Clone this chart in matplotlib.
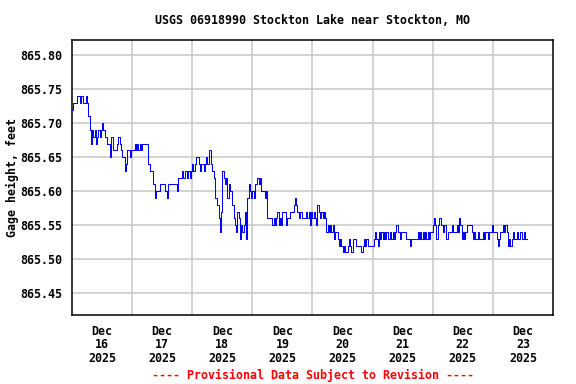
import datetime as dt
import numpy as np
import matplotlib
matplotlib.use("Agg")
import matplotlib.pyplot as plt
import matplotlib.dates as mdates
from matplotlib.ticker import FixedLocator, NullFormatter


TITLE = "USGS 06918990 Stockton Lake near Stockton, MO"
YLABEL = "Gage height, feet"
NOTE = "---- Provisional Data Subject to Revision ----"

START = dt.datetime(2025, 12, 16, 0, 0)
STEP_MIN = 30
BASE = 865.00

# gage height, hundredths of a foot above 865.00, one value per half hour
dec16 = [72, 73, 73, 73, 74, 74, 73, 74, 74, 73, 73, 74, 73, 71, 69, 67,
         69, 68, 69, 67, 68, 69, 68, 69, 70, 69, 68, 68, 67, 67, 65, 68,
         68, 66, 66, 66, 67, 68, 67, 66, 65, 65, 63, 64, 66, 66, 65, 66]
dec17 = [66, 66, 67, 66, 67, 66, 67, 66, 67, 67, 67, 67, 67, 64, 63, 63,
         63, 61, 59, 60, 60, 60, 61, 61, 61, 61, 60, 60, 59, 61, 61, 61,
         61, 61, 61, 61, 60, 62, 62, 62, 63, 62, 63, 63, 62, 63, 62, 63]
dec18 = [64, 63, 64, 65, 65, 64, 63, 64, 64, 63, 64, 65, 64, 66, 66, 64,
         63, 62, 59, 59, 58, 56, 54, 57, 63, 62, 61, 62, 59, 61, 60, 60,
         58, 56, 55, 54, 57, 56, 53, 55, 54, 55, 57, 53, 59, 61, 60, 59]
dec19 = [60, 59, 61, 61, 62, 61, 62, 60, 60, 60, 59, 60, 56, 56, 56, 56,
         55, 56, 55, 56, 57, 55, 56, 55, 57, 57, 57, 55, 56, 56, 57, 57,
         57, 58, 59, 58, 57, 56, 57, 57, 56, 56, 56, 57, 56, 57, 55, 57]
dec20 = [56, 57, 56, 55, 58, 57, 56, 57, 56, 57, 56, 54, 55, 54, 55, 54,
         55, 53, 54, 54, 53, 52, 53, 52, 51, 52, 51, 51, 52, 53, 52, 51,
         53, 53, 53, 52, 52, 52, 52, 51, 52, 53, 52, 53, 52, 52, 52, 52]
dec21 = [52, 53, 54, 53, 52, 54, 53, 54, 53, 54, 53, 54, 53, 53, 54, 53,
         54, 53, 54, 55, 54, 54, 53, 54, 54, 54, 54, 53, 53, 53, 52, 53,
         53, 53, 53, 53, 54, 53, 54, 53, 54, 53, 54, 53, 54, 53, 54, 54]
dec22 = [55, 56, 55, 53, 55, 56, 56, 55, 54, 55, 55, 53, 54, 54, 54, 55,
         54, 54, 54, 55, 54, 56, 55, 53, 54, 53, 54, 55, 55, 55, 55, 54,
         53, 54, 53, 53, 54, 53, 53, 53, 54, 53, 54, 54, 53, 54, 54, 55]
dec23 = [54, 54, 54, 53, 52, 53, 54, 54, 55, 54, 55, 54, 52, 53, 52, 53,
         54, 53, 53, 54, 53, 53, 54, 53, 53, 54, 53, 53]

stage = [BASE + v / 100 for v in dec16 + dec17 + dec18 + dec19 + dec20 + dec21 + dec22 + dec23]
times = [START + dt.timedelta(minutes=STEP_MIN * i) for i in range(len(stage))]

day_labels = ["Dec\n16\n2025", "Dec\n17\n2025", "Dec\n18\n2025", "Dec\n19\n2025",
              "Dec\n20\n2025", "Dec\n21\n2025", "Dec\n22\n2025", "Dec\n23\n2025"]
yticks = [865.45, 865.50, 865.55, 865.60, 865.65, 865.70, 865.75, 865.80]

font = "DejaVu Sans Mono"

fig = plt.figure(figsize=(5.76, 3.84), dpi=100)
ax = fig.add_axes([0.125, 0.18, 0.835, 0.716])

ax.plot(times, stage, color="#0000ff", linewidth=0.75, drawstyle="steps-post", zorder=3)

ax.set_xlim(START, START + dt.timedelta(days=8))
ax.set_ylim(865.418, 865.8225)

# gridlines at midnight, labels at noon
midnights = [mdates.date2num(START + dt.timedelta(days=d)) for d in range(1, 8)]
noons = [mdates.date2num(START + dt.timedelta(days=d, hours=12)) for d in range(8)]
ax.xaxis.set_major_locator(FixedLocator(midnights))
ax.xaxis.set_major_formatter(NullFormatter())
ax.xaxis.set_minor_locator(FixedLocator(noons))
ax.set_xticklabels(day_labels, minor=True, fontfamily=font, fontweight="bold",
                   fontsize=8.4, linespacing=1.05)

ax.set_yticks(yticks)
ax.set_yticklabels(["%.2f" % v for v in yticks], fontfamily=font,
                   fontweight="bold", fontsize=8.4)

ax.tick_params(axis="both", which="both", length=0)
ax.tick_params(axis="x", which="minor", pad=7)
ax.tick_params(axis="y", pad=7)

ax.grid(True, which="major", color="#c8c8c8", linewidth=1.1, zorder=0)
for s in ax.spines.values():
    s.set_linewidth(1.1)
    s.set_color("black")

fig.text(0.543, 0.946, TITLE, ha="center", va="center", fontfamily=font,
         fontweight="bold", fontsize=8.4)
fig.text(0.022, 0.537, YLABEL, ha="center", va="center", rotation=90,
         fontfamily=font, fontweight="bold", fontsize=8.4)
fig.text(0.543, 0.023, NOTE, ha="center", va="center", fontfamily=font,
         fontweight="bold", fontsize=8.4, color="#ff0000")

fig.savefig("out.png", dpi=100)
